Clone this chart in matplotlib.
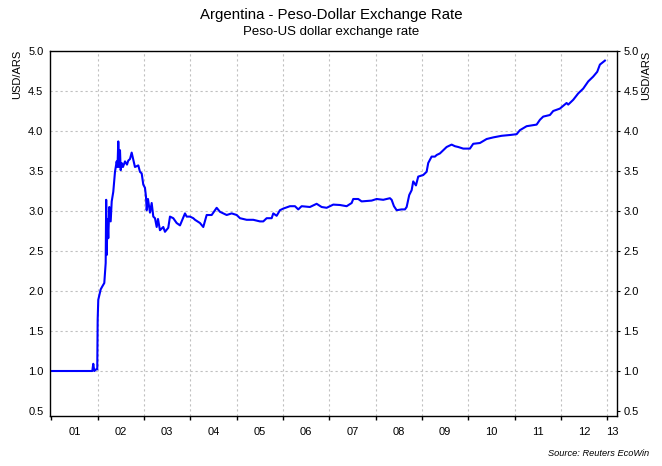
import matplotlib
matplotlib.use("Agg")
import matplotlib.pyplot as plt
import numpy as np

plt.rcParams['font.family'] = ['Liberation Sans', 'DejaVu Sans']

# decimal years and peso per dollar
dates = [2001.0, 2001.883, 2001.904, 2001.926, 2001.963, 2001.99, 2001.999, 2002.012,
         2002.064, 2002.092, 2002.142, 2002.172, 2002.183, 2002.194, 2002.211, 2002.228,
         2002.25, 2002.28, 2002.302, 2002.336, 2002.373, 2002.409, 2002.427, 2002.444,
         2002.463, 2002.481, 2002.496, 2002.517, 2002.545, 2002.589, 2002.632, 2002.66,
         2002.697, 2002.733, 2002.768, 2002.804, 2002.841, 2002.876, 2002.912, 2002.949,
         2002.984, 2003.02, 2003.042, 2003.057, 2003.085, 2003.128, 2003.165, 2003.2,
         2003.236, 2003.273, 2003.301, 2003.344, 2003.415, 2003.452, 2003.523, 2003.56,
         2003.631, 2003.704, 2003.776, 2003.884, 2003.92, 2003.992, 2004.063, 2004.1,
         2004.207, 2004.279, 2004.352, 2004.46, 2004.568, 2004.639, 2004.784, 2004.892,
         2005.0, 2005.071, 2005.215, 2005.358, 2005.502, 2005.574, 2005.647, 2005.755,
         2005.79, 2005.863, 2005.934, 2006.005, 2006.15, 2006.258, 2006.329, 2006.402,
         2006.581, 2006.726, 2006.834, 2006.942, 2007.085, 2007.229, 2007.374, 2007.482,
         2007.516, 2007.624, 2007.697, 2007.806, 2007.913, 2008.021, 2008.164, 2008.308,
         2008.345, 2008.395, 2008.453, 2008.561, 2008.632, 2008.669, 2008.725, 2008.777,
         2008.811, 2008.87, 2008.919, 2009.027, 2009.1, 2009.135, 2009.172, 2009.208,
         2009.28, 2009.317, 2009.388, 2009.459, 2009.532, 2009.64, 2009.711, 2009.783,
         2009.891, 2010.035, 2010.106, 2010.251, 2010.396, 2010.538, 2010.719, 2010.898,
         2011.043, 2011.114, 2011.259, 2011.475, 2011.546, 2011.617, 2011.762, 2011.833,
         2011.977, 2012.122, 2012.157, 2012.265, 2012.373, 2012.481, 2012.589, 2012.696,
         2012.783, 2012.841, 2012.949]
rate = [1.0, 1.0, 1.09, 1.0, 1.02, 1.02, 1.64, 1.89,
        2.02, 2.05, 2.1, 2.35, 3.14, 2.45, 2.9, 2.66,
        3.05, 2.87, 3.12, 3.24, 3.49, 3.62, 3.55, 3.87,
        3.55, 3.76, 3.51, 3.6, 3.55, 3.62, 3.58, 3.63,
        3.65, 3.73, 3.64, 3.55, 3.56, 3.57, 3.49, 3.47,
        3.33, 3.29, 3.18, 3.01, 3.15, 2.98, 3.1, 2.93,
        2.91, 2.80, 2.9, 2.76, 2.8, 2.74, 2.79, 2.93,
        2.91, 2.85, 2.82, 2.97, 2.93, 2.93, 2.91, 2.89,
        2.85, 2.80, 2.95, 2.95, 3.04, 2.99, 2.95, 2.97,
        2.95, 2.91, 2.89, 2.89, 2.87, 2.87, 2.91, 2.91,
        2.97, 2.94, 3.01, 3.03, 3.06, 3.06, 3.02, 3.06,
        3.05, 3.09, 3.05, 3.04, 3.08, 3.075, 3.06, 3.1,
        3.15, 3.15, 3.12, 3.125, 3.13, 3.15, 3.14, 3.16,
        3.14, 3.06, 3.01, 3.02, 3.02, 3.05, 3.2, 3.26,
        3.37, 3.32, 3.43, 3.45, 3.49, 3.6, 3.64, 3.68,
        3.68, 3.7, 3.72, 3.76, 3.80, 3.83, 3.81, 3.80,
        3.78, 3.78, 3.84, 3.85, 3.9, 3.92, 3.94, 3.95,
        3.96, 4.01, 4.06, 4.08, 4.14, 4.18, 4.2, 4.25,
        4.28, 4.35, 4.33, 4.39, 4.47, 4.53, 4.62, 4.68,
        4.74, 4.83, 4.88]

year_labels = ['01', '02', '03', '04', '05', '06', '07', '08', '09', '10', '11', '12', '13']
label_pos = [2001.5, 2002.5, 2003.5, 2004.5, 2005.5, 2006.5, 2007.5, 2008.5,
             2009.5, 2010.5, 2011.5, 2012.5, 2013.1]
yticks = [0.5, 1.0, 1.5, 2.0, 2.5, 3.0, 3.5, 4.0, 4.5, 5.0]

fig = plt.figure(figsize=(6.62, 4.66), dpi=100)
ax = fig.add_axes([50/662, 1 - 416/466, 567/662, 365/466])

ax.plot(dates, rate, color='#0000ff', lw=1.5)

ax.set_xlim(2000.97, 2013.21)
ax.set_ylim(0.4375, 5.0)

ax.set_xticks(np.arange(2001, 2014))
ax.set_xticklabels([])
ax.set_xticks(label_pos, minor=True)
ax.set_xticklabels(year_labels, minor=True)
ax.tick_params(axis='x', which='major', direction='out', length=3, width=1)
ax.tick_params(axis='x', which='minor', length=0, pad=8, labelsize=8)

ax.set_yticks(yticks)
ax.set_yticklabels([f'{v:.1f}' for v in yticks])
ax.tick_params(axis='y', which='major', left=False, right=True, labelleft=True,
               labelright=True, direction='out', length=2.2, pad=2.5, labelsize=8)

ax.grid(True, which='major', color='#c0c0c0', linestyle=(0, (2, 2.5)), lw=0.8)
ax.yaxis.get_gridlines()[0].set_visible(False)
ax.xaxis.get_gridlines()[0].set_visible(False)
for s in ax.spines.values():
    s.set_linewidth(1.0)

fig.text(0.5, 1 - 15/466, 'Argentina - Peso-Dollar Exchange Rate', ha='center', va='center', fontsize=10.8)
fig.text(0.5, 1 - 32/466, 'Peso-US dollar exchange rate', ha='center', va='center', fontsize=9.5)
fig.text(17/662, 1 - 50/466, 'USD/ARS', rotation=90, ha='center', va='top', fontsize=8)
fig.text(646/662, 1 - 51/466, 'USD/ARS', rotation=90, ha='center', va='top', fontsize=8)
fig.text(649/662, 1 - 454/466, 'Source: Reuters EcoWin', ha='right', va='center',
         fontsize=6.7, style='italic')

fig.savefig('out.png', dpi=100)
